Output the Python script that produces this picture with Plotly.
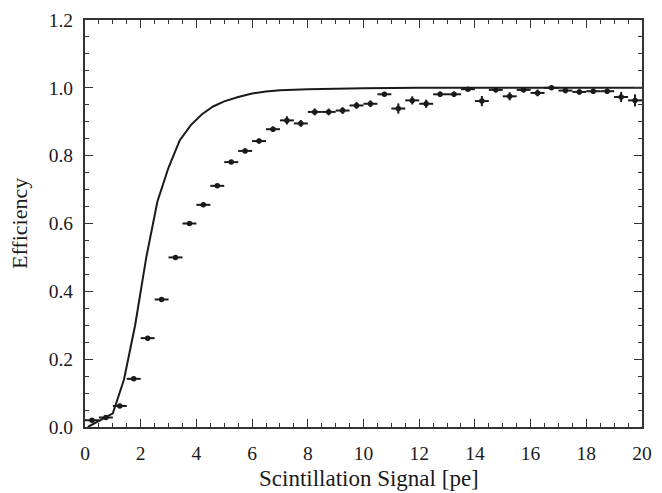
import plotly.graph_objects as go

# Bin centres (pe) and half-widths
signal_pe = [0.25, 0.75, 1.25, 1.75, 2.25, 2.75, 3.25, 3.75, 4.25, 4.75,
             5.25, 5.75, 6.25, 6.75, 7.25, 7.75, 8.25, 8.75, 9.25, 9.75,
             10.25, 10.75, 11.25, 11.75, 12.25, 12.75, 13.25, 13.75, 14.25, 14.75,
             15.25, 15.75, 16.25, 16.75, 17.25, 17.75, 18.25, 18.75, 19.25, 19.75]
bin_halfwidth = [0.25] * 40

efficiency = [0.020, 0.028, 0.062, 0.142, 0.262, 0.376, 0.500, 0.600, 0.655, 0.711,
              0.781, 0.814, 0.843, 0.878, 0.904, 0.895, 0.929, 0.929, 0.933, 0.948,
              0.953, 0.981, 0.939, 0.963, 0.953, 0.981, 0.981, 0.996, 0.961, 0.994,
              0.975, 0.994, 0.985, 1.000, 0.992, 0.988, 0.990, 0.990, 0.973, 0.963]
efficiency_err = [0.004, 0.004, 0.004, 0.004, 0.004, 0.004, 0.004, 0.004, 0.006, 0.006,
                  0.006, 0.007, 0.007, 0.008, 0.012, 0.010, 0.010, 0.010, 0.010, 0.010,
                  0.010, 0.006, 0.015, 0.012, 0.012, 0.008, 0.008, 0.004, 0.015, 0.008,
                  0.012, 0.008, 0.010, 0.003, 0.008, 0.008, 0.008, 0.008, 0.015, 0.018]

# Model curve
curve_x = [0.1, 1.0, 1.4, 1.8, 2.2, 2.6, 3.0, 3.4, 3.8, 4.2, 4.6, 5.0, 5.5,
           6.0, 6.5, 7.0, 8.0, 9.0, 10.0, 12.0, 14.0, 16.0, 18.0, 20.0]
curve_y = [0.0, 0.04, 0.14, 0.30, 0.50, 0.665, 0.765, 0.845, 0.89, 0.922, 0.945, 0.96, 0.973,
           0.983, 0.989, 0.993, 0.996, 0.998, 0.999, 1.0, 1.0, 1.0, 1.0, 1.0]

x_ticks = [0, 2, 4, 6, 8, 10, 12, 14, 16, 18, 20]
y_ticks = [0.0, 0.2, 0.4, 0.6, 0.8, 1.0, 1.2]
x_title = "Scintillation Signal [pe]"
y_title = "Efficiency"

font_family = "Liberation Serif, Times New Roman, serif"
ink = "#1a1a1a"

fig = go.Figure()
fig.add_trace(go.Scatter(
    x=curve_x, y=curve_y, mode="lines",
    line=dict(color=ink, width=2), showlegend=False, hoverinfo="skip"))
fig.add_trace(go.Scatter(
    x=signal_pe, y=efficiency, mode="markers",
    marker=dict(color=ink, size=5.5, symbol="circle"),
    error_x=dict(type="data", array=bin_halfwidth, color=ink, thickness=2, width=0),
    error_y=dict(type="data", array=efficiency_err, color=ink, thickness=2, width=0),
    showlegend=False))

axis_common = dict(
    showline=True, linecolor="#333333", linewidth=2, mirror="ticks",
    ticks="inside", ticklen=8, tickwidth=1.2, tickcolor="#333333",
    showgrid=False, zeroline=False,
    tickfont=dict(family=font_family, size=19.5, color=ink),
)

fig.update_xaxes(
    range=[0, 20], tickvals=x_ticks, ticktext=[str(v) for v in x_ticks],
    ticklabelstandoff=8,
    minor=dict(ticks="inside", ticklen=4, dtick=0.5, tick0=0, tickcolor="#333333", tickwidth=1.2),
    **axis_common)
fig.update_yaxes(
    range=[0, 1.2], tickvals=y_ticks, ticktext=[f"{v:.1f}" for v in y_ticks],
    ticklabelstandoff=6,
    minor=dict(ticks="inside", ticklen=4, dtick=0.05, tick0=0, tickcolor="#333333", tickwidth=1.2),
    **axis_common)

fig.add_annotation(
    text=x_title, xref="paper", yref="paper", x=0.5, y=0,
    xanchor="center", yanchor="top", xshift=5, yshift=-36.5, showarrow=False,
    font=dict(family=font_family, size=23, color=ink))
fig.add_annotation(
    text=y_title, xref="paper", yref="paper", x=0, y=0.5, textangle=-90,
    xanchor="center", yanchor="middle", xshift=-65.5, showarrow=False,
    font=dict(family=font_family, size=22, color=ink))

fig.update_layout(
    width=662, height=493,
    margin=dict(l=85, r=10, t=19, b=66),
    plot_bgcolor="white", paper_bgcolor="white",
    font=dict(family=font_family, color=ink),
)

fig.write_html("out.html", config={"displayModeBar": False},
               post_script="document.body.style.margin='0px';document.body.style.overflow='hidden';")
